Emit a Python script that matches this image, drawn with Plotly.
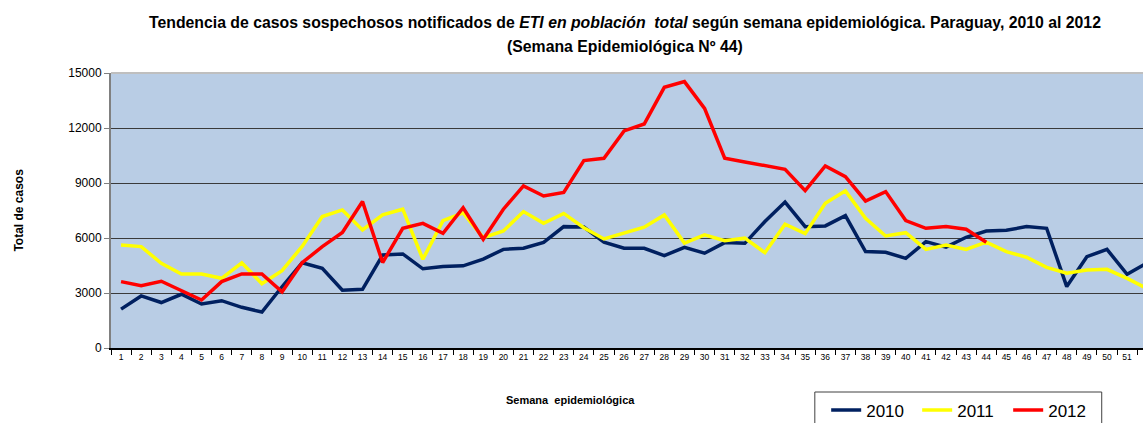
import plotly.graph_objects as go

# Semanas epidemiológicas 1..52
semanas = [str(s) for s in range(1, 53)]

casos_2010 = [2120, 2840, 2480, 2930, 2400, 2580, 2220, 1960, 3340, 4650,
              4350, 3150, 3200, 5070, 5130, 4320, 4440, 4480, 4850, 5380,
              5440, 5760, 6620, 6600, 5770, 5440, 5440, 5040, 5490, 5170,
              5750, 5710, 6900, 7960, 6620, 6660, 7220, 5260, 5220, 4890,
              5800, 5500, 6040, 6380, 6420, 6620, 6530, 3350, 4980, 5380,
              4020, 4650]

casos_2011 = [5620, 5530, 4620, 4040, 4040, 3800, 4650, 3500, 4220, 5540,
              7170, 7530, 6440, 7260, 7570, 4840, 6950, 7370, 6020, 6380,
              7440, 6800, 7340, 6560, 5950, 6250, 6590, 7260, 5720, 6170,
              5850, 5990, 5200, 6750, 6240, 7890, 8570, 7070, 6110, 6290,
              5380, 5620, 5380, 5770, 5260, 4950, 4400, 4080, 4260, 4290,
              3800, 3230]

casos_2012 = [3620, 3400, 3640, 3110, 2620, 3620, 4040, 4040, 3060, 4650,
              5530, 6300, 7990, 4660, 6530, 6800, 6260, 7650, 5930, 7570,
              8840, 8290, 8480, 10220, 10350, 11840, 12220, 14220, 14530, 13070,
              10350, 10150, 9950, 9750, 8580, 9930, 9350, 8020, 8530, 6950,
              6530, 6620, 6480, 5770]

series = [("2010", casos_2010, "#002060"),
          ("2011", casos_2011, "#FFFF00"),
          ("2012", casos_2012, "#FF0000")]

fuente = "Liberation Sans, Arial, sans-serif"

fig = go.Figure()
for nombre, valores, color in series:
    fig.add_trace(go.Scatter(
        x=semanas[:len(valores)],
        y=valores,
        mode="lines",
        name=nombre,
        line=dict(color=color, width=3.5),
    ))

fig.update_layout(
    width=1143,
    height=423,
    margin=dict(l=111, r=0, t=73, b=75, autoexpand=False),
    paper_bgcolor="white",
    plot_bgcolor="#B9CDE5",
    font=dict(family=fuente, color="black"),
    showlegend=True,
    legend=dict(
        orientation="h",
        x=0.693, xanchor="left",
        y=-0.162, yanchor="top",
        borderwidth=0,
        bgcolor="rgba(0,0,0,0)",
        font=dict(family=fuente, size=17, color="black"),
        itemwidth=30,
        entrywidth=46,
        tracegroupgap=0,
    ),
)

fig.update_xaxes(
    type="category",
    range=[-0.5, 50.79],
    tickson="boundaries",
    ticks="outside",
    ticklen=5,
    tickcolor="black",
    showline=True,
    linecolor="black",
    linewidth=2,
    showgrid=False,
    tickfont=dict(family=fuente, size=8.5, color="black"),
    tickangle=0,
)

fig.update_yaxes(
    range=[0, 15000],
    tickvals=[0, 3000, 6000, 9000, 12000, 15000],
    tickformat="d",
    ticks="outside",
    ticklen=5,
    tickcolor="#808080",
    showline=True,
    linecolor="#808080",
    linewidth=2,
    showgrid=True,
    gridcolor="#3A3A3A",
    gridwidth=1,
    zeroline=False,
    tickfont=dict(family=fuente, size=12, color="black"),
)

# Borde superior del área de trazado
fig.add_shape(type="line", xref="paper", yref="paper", x0=0, x1=1, y0=1, y1=1,
              line=dict(color="#BFBFBF", width=2))

# Marco de la leyenda
fig.add_shape(type="rect", xref="paper", yref="paper",
              x0=0.682, x1=0.960, y0=-0.16, y1=-0.32,
              line=dict(color="#404040", width=1))

# Título en dos líneas
fig.add_annotation(
    text="<b>Tendencia de casos sospechosos notificados de <i>ETI en población  total</i> "
         "según semana epidemiológica. Paraguay, 2010 al 2012</b>",
    xref="paper", yref="paper", x=0.498, y=1.185, xanchor="center", yanchor="middle",
    showarrow=False, font=dict(family=fuente, size=15.8, color="black"),
)
fig.add_annotation(
    text="<b>(Semana Epidemiológica Nº 44)</b>",
    xref="paper", yref="paper", x=0.498, y=1.098, xanchor="center", yanchor="middle",
    showarrow=False, font=dict(family=fuente, size=15.8, color="black"),
)

fig.add_annotation(
    text="<b>Total de casos</b>", xref="paper", yref="paper",
    x=-0.090, y=0.5, xanchor="center", yanchor="middle", textangle=-90, showarrow=False,
    font=dict(family=fuente, size=12, color="black"),
)

fig.add_annotation(
    text="<b>Semana  epidemiológica</b>", xref="paper", yref="paper",
    x=0.445, y=-0.189, xanchor="center", yanchor="middle", showarrow=False,
    font=dict(family=fuente, size=11, color="black"),
)

fig.write_html("out.html", config={"displayModeBar": False},
               post_script="document.body.style.margin='0px';")
